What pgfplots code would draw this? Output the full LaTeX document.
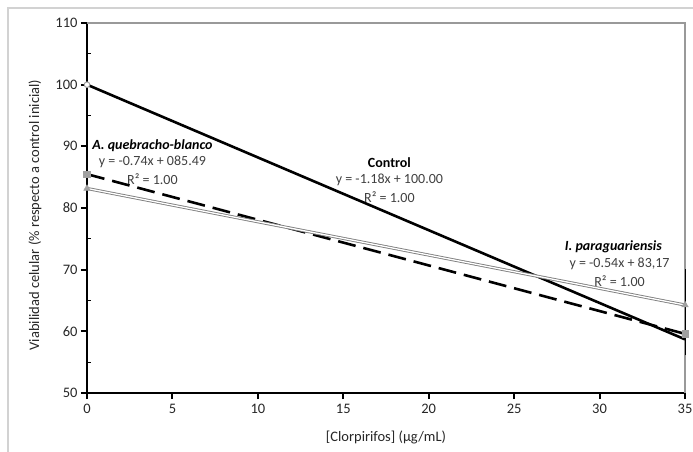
\documentclass[border=0pt]{standalone}
\usepackage{fontspec}
\setmainfont{Carlito}
\usepackage{pgfplots}
\pgfplotsset{compat=1.18}
\definecolor{mk}{RGB}{160,160,160}
\definecolor{eq}{RGB}{64,64,64}
\newcommand{\lblfont}{\fontsize{14.5}{16}\selectfont}
\begin{document}
\begin{tikzpicture}[x=1pt,y=1pt]
\begin{axis}[
  name=ax,
  at={(0,0)}, anchor=south west,
  scale only axis, width=598pt, height=370pt,
  xmin=0, xmax=35, ymin=50, ymax=110,
  xtick={0,5,...,35}, ytick={50,60,...,110},
  minor y tick num=1,
  axis x line*=bottom, axis y line*=left,
  axis line style={-, line width=2.4pt, black},
  tick align=outside,
  major tick length=6pt, minor tick length=4pt,
  major tick style={black, line width=2pt},
  minor tick style={black, line width=1pt},
  minor y tick style={xshift=4pt},
  tick label style={font=\lblfont, text=black!85},
  xticklabel style={yshift=-2pt},
  /pgf/number format/assume math mode=true,
  xlabel={[Clorpirifos] (µg/mL)},
  ylabel={Viabilidad celular (\% respecto a control inicial)},
  every axis x label/.style={at={(axis description cs:0.5,-0.119)}, anchor=center, font=\lblfont, text=black!85},
  every axis y label/.style={at={(axis description cs:-0.087,0.481)}, rotate=90, anchor=center, font=\lblfont, text=black!85},
  clip=false,
]
% top and right frame of the plot area (below the data)
\draw[gray!80, line width=1.5pt] (rel axis cs:0,1) -- (rel axis cs:1,1) -- (rel axis cs:1,0);
% Control
\addplot[black, line width=2.6pt] coordinates {(0,100) (35,58.70)};
% A. quebracho-blanco
\addplot[black, line width=2.6pt, dash pattern=on 18pt off 8pt] coordinates {(0,85.49) (35,59.59)};
% I. paraguariensis
\addplot[draw=gray, line width=0.9pt, double=white, double distance=1.3pt] coordinates {(0,83.17) (35,64.27)};
% markers with error bars
\addplot[only marks, mark=*, mark size=2.8pt, mark options={fill=white, draw=mk, line width=1pt}] coordinates {(0,100)};
\addplot[only marks, mark=square*, mark size=3.3pt, mark options={fill=mk, draw=mk},
  error bars/.cd, y dir=both, y explicit,
  error bar style={black, line width=0.8pt},
  error mark options={black, line width=0.8pt, mark size=3pt}]
  coordinates {(0,85.49) +- (0,0) (35,59.59) +- (0,3.0)};
\addplot[only marks, mark=triangle*, mark size=3.8pt, mark options={fill=mk, draw=mk},
  error bars/.cd, y dir=both, y explicit,
  error bar style={black, line width=0.8pt},
  error mark options={black, line width=0.8pt, mark size=3pt}]
  coordinates {(0,83.17) +- (0,0) (35,64.27) +- (0,5.3)};
% annotations
\begin{scope}[every node/.style={font=\fontsize{14}{16}\selectfont, anchor=center, inner sep=0pt}]
\node at (axis cs:3.83,90.05) {\textbf{\textit{A. quebracho-blanco}}};
\node[text=eq] at (axis cs:3.83,87.46) {y = -0.74x + 085.49};
\node[text=eq] at (axis cs:3.83,84.70) {R² = 1.00};
\node at (axis cs:17.70,87.30) {\textbf{Control}};
\node[text=eq] at (axis cs:17.70,84.54) {y = -1.18x + 100.00};
\node[text=eq] at (axis cs:17.70,81.78) {R² = 1.00};
\node at (axis cs:30.81,73.68) {\textbf{\textit{I. paraguariensis}}};
\node[text=eq] at (axis cs:31.17,70.92) {y = -0.54x + 83,17};
\node[text=eq] at (axis cs:31.17,68.16) {R² = 1.00};
\end{scope}
\end{axis}
\draw[gray!35, line width=1.5pt] (-79pt,-59pt) -- (-79pt,385pt) -- (606pt,385pt);
\pgfresetboundingbox
\path[use as bounding box] (-87pt,-59pt) rectangle (606pt,393pt);
\end{tikzpicture}
\end{document}
